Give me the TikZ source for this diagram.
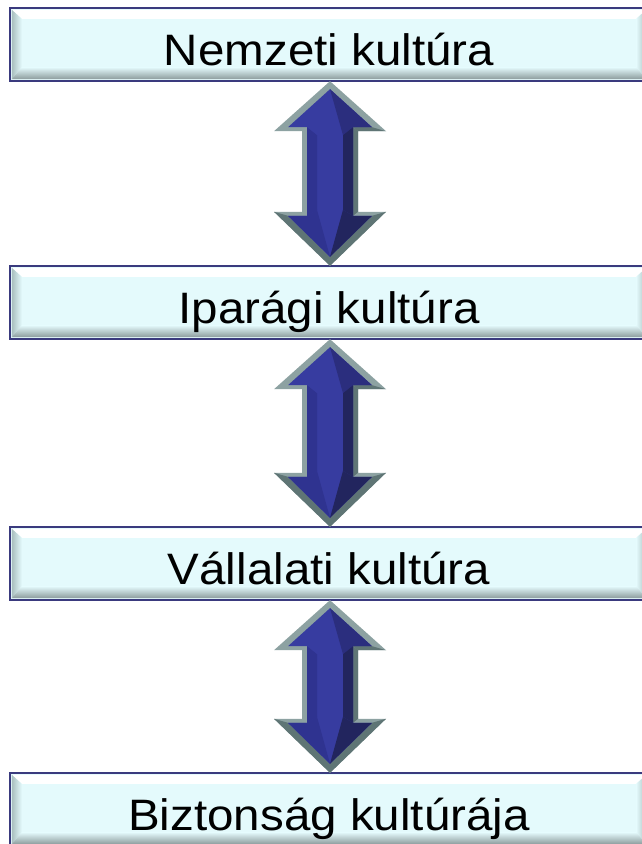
\documentclass[tikz,border=0pt]{standalone}
\usepackage{fontspec}
\setmainfont{Liberation Sans}
\usepackage{graphicx}
\usetikzlibrary{calc}
\definecolor{boxfill}{HTML}{E4FAFC}
\definecolor{boxline}{HTML}{3A3A7E}
\definecolor{bevL}{HTML}{A9BFBF}
\definecolor{bevB}{HTML}{8C9C9C}
\definecolor{grayL}{HTML}{8DA2A2}
\definecolor{grayD}{HTML}{5F7575}
\definecolor{blueM}{HTML}{373CA0}
\definecolor{blueS}{HTML}{2F3390}
\definecolor{blueF}{HTML}{2B2E7E}
\definecolor{blueD}{HTML}{22255E}
\tikzset{
  layerbox/.style={rectangle, fill=boxfill, minimum width=638pt, minimum height=73pt,
    inner sep=0pt},
  layertext/.style={rectangle, inner sep=0pt, minimum width=638pt, minimum height=73pt,
    text height=41pt, text depth=0pt, font=\fontsize{44}{48}\selectfont},
}
\newcommand\tx[1]{\scalebox{1.08}[1]{#1}}
\newcommand\bevbox[1]{%
  \fill[white] ($(#1.north west)+(2,2)$) -- ($(#1.north east)+(-2,2)$) -- ($(#1.north east)+(-12,11)$) -- ($(#1.north west)+(12,11)$) -- cycle;
  \shade[left color=bevL, right color=boxfill] ($(#1.north west)+(2,2)$) -- ($(#1.north west)+(12,11)$) -- ($(#1.south west)+(12,-14)$) -- ($(#1.south west)+(2,-2)$) -- cycle;
  \shade[right color=bevL, left color=boxfill] ($(#1.north east)+(-2,2)$) -- ($(#1.north east)+(-12,11)$) -- ($(#1.south east)+(-12,-14)$) -- ($(#1.south east)+(-2,-2)$) -- cycle;
  \shade[top color=boxfill, bottom color=bevB] ($(#1.south west)+(2,-2)$) -- ($(#1.south east)+(-2,-2)$) -- ($(#1.south east)+(-12,-14)$) -- ($(#1.south west)+(12,-14)$) -- cycle;
  \draw[boxline, line width=2.2pt] (#1.north west) rectangle (#1.south east);
}
\newdimen\arrYa \newdimen\arrYb
\newcommand\bevarrow[2]{%
  \pgfextracty{\arrYa}{\pgfpointanchor{#1}{south}}%
  \pgfextracty{\arrYb}{\pgfpointanchor{#2}{north}}%
  \pgfmathsetmacro\aL{\the\arrYa-\the\arrYb}%
  \begin{scope}[shift={(#1.south)}, xshift=1pt]
    \fill[grayL] (0,0) -- (56,50) -- (28,50) -- (28,{\aL-54}) -- (56,{\aL-54}) -- (0,\aL) -- (-56,{\aL-54}) -- (-28,{\aL-54}) -- (-28,50) -- (-56,50) -- cycle;
    \fill[grayD] (23,46) -- (28,50) -- (28,{\aL-54}) -- (23,{\aL-50}) -- cycle;
    \fill[grayD] (56,50) -- (42,46) -- (23,46) -- (28,50) -- cycle;
    \fill[grayD] (56,{\aL-54}) -- (0,\aL) -- (-56,{\aL-54}) -- (-42,{\aL-50}) -- (0,{\aL-9}) -- (42,{\aL-50}) -- cycle;
    \fill[blueM] (0,8) -- (42,46) -- (23,46) -- (23,{\aL-50}) -- (42,{\aL-50}) -- (0,{\aL-9}) -- (-42,{\aL-50}) -- (-23,{\aL-50}) -- (-23,46) -- (-42,46) -- cycle;
    \fill[blueS] (-23,46) -- (-13,54) -- (-13,{\aL-56}) -- (-23,{\aL-50}) -- cycle;
    \fill[blueS] (0,{\aL-9}) -- (-42,{\aL-50}) -- (-23,{\aL-50}) -- (-13,{\aL-56}) -- cycle;
    \fill[blueF] (0,8) -- (42,46) -- (23,46) -- (13,54) -- cycle;
    \fill[blueD] (23,46) -- (13,54) -- (13,{\aL-56}) -- (23,{\aL-50}) -- cycle;
    \fill[blueD] (0,{\aL-9}) -- (42,{\aL-50}) -- (23,{\aL-50}) -- (13,{\aL-56}) -- cycle;
  \end{scope}}
\begin{document}
\begin{tikzpicture}[x=1pt, y=-1pt]
  \useasboundingbox (0,0) rectangle (641,844);
  \fill[white] (0,0) rectangle (641,844);
  \node[layerbox] (b1) at (329,44.5) {};
  \node[layerbox] (b2) at (329,302.5) {};
  \node[layerbox] (b3) at (329,563.5) {};
  \node[layerbox] (b4) at (329,809.5) {};
  \bevbox{b1}\bevbox{b2}\bevbox{b3}\bevbox{b4}
  \node[layertext] (t1) at (b1) {\tx{Nemzeti kultúra}};
  \node[layertext] (t2) at (b2) {\tx{Iparági kultúra}};
  \node[layertext] (t3) at (b3) {\tx{Vállalati kultúra}};
  \node[layertext] (t4) at (b4) {\tx{Biztonság kultúrája}};
  \bevarrow{b1}{b2}
  \bevarrow{b2}{b3}
  \bevarrow{b3}{b4}
\end{tikzpicture}
\end{document}
